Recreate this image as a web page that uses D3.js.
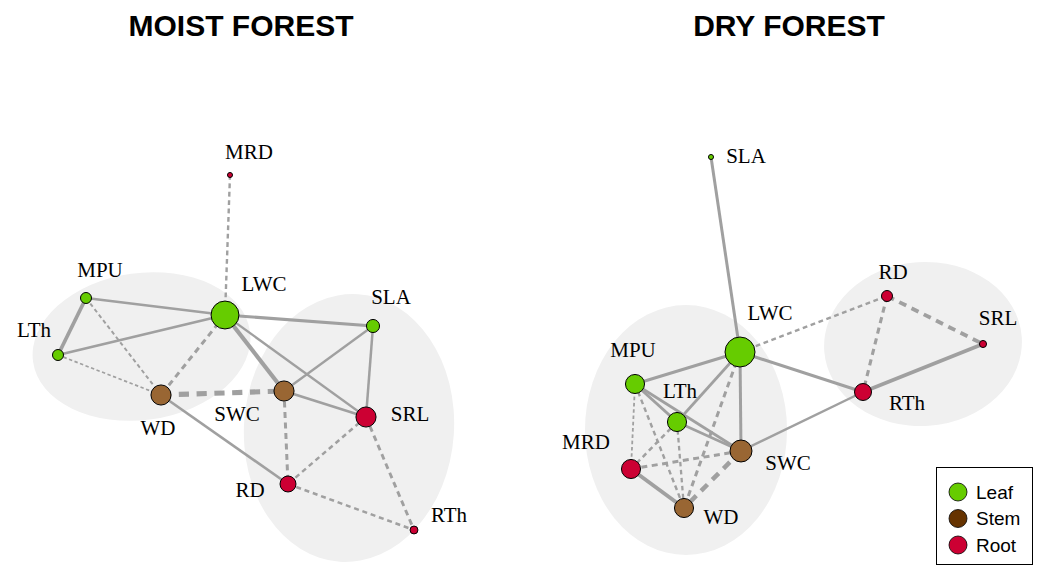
<!DOCTYPE html>
<html>
<head>
<meta charset="utf-8">
<script src="https://cdn.jsdelivr.net/npm/d3@7"></script>
<style>
  html, body { margin: 0; padding: 0; background: #ffffff; }
  svg { display: block; }
</style>
</head>
<body>
<svg id="chart" width="1042" height="565"></svg>
<script>
// ---------- data ----------
const panelTitles = ["MOIST FOREST", "DRY FOREST"];

const traitNames = ["MRD", "MPU", "LTh", "LWC", "SLA", "WD", "SWC", "SRL", "RD", "RTh"];
const traitOrgan = ["Root", "Leaf", "Leaf", "Leaf", "Leaf", "Stem", "Stem", "Root", "Root", "Root"];

// layout coordinates (0-100 layout units) and node centrality
const moistX = [46, 17.2, 11.6, 45, 74.6, 32.2, 56.8, 73.2, 57.6, 82.8];
const moistY = [15, 39.6, 51, 43, 45.2, 59, 58.2, 63.4, 76.8, 86];
const moistCentrality = [0.04, 0.27, 0.27, 0.92, 0.35, 0.62, 0.62, 0.62, 0.46, 0.15];

const dryX = [18.2, 19, 27.4, 40, 34.2, 28.8, 40.2, 88.6, 69.4, 64.6];
const dryY = [73.8, 56.8, 64.4, 50.4, 11.4, 81.6, 70.2, 48.8, 39.2, 58.4];
const dryCentrality = [0.58, 0.58, 0.58, 1.0, 0.04, 0.58, 0.69, 0.12, 0.27, 0.5];

// correlations between traits (negative = dashed)
const moistFrom = ["MRD","MPU","MPU","LTh","MPU","LTh","LWC","WD","WD","LWC","LWC","LWC","SLA","SLA","SWC","SWC","SRL","SRL","RD"];
const moistTo   = ["LWC","LTh","LWC","LWC","WD","WD","WD","SWC","RD","SWC","SRL","SLA","SWC","SRL","SRL","RD","RD","RTh","RTh"];
const moistR    = [-0.40, 0.62, 0.45, 0.45, -0.33, -0.28, -0.50, -0.85, 0.45, 0.70, 0.38, 0.52, 0.38, 0.42, 0.42, -0.50, -0.42, -0.48, -0.42];

const dryFrom = ["SLA","LWC","LWC","RD","RD","RTh","RTh","LWC","LWC","LWC","LWC","MPU","MPU","LTh","MPU","MPU","LTh","LTh","MRD","SWC","MRD"];
const dryTo   = ["LWC","RD","RTh","RTh","SRL","SRL","SWC","MPU","LTh","SWC","WD","LTh","SWC","SWC","MRD","WD","WD","MRD","SWC","WD","WD"];
const dryR    = [0.50, -0.40, 0.50, -0.52, -0.65, 0.60, 0.40, 0.50, 0.45, 0.50, -0.50, 0.50, 0.45, 0.42, -0.30, -0.40, -0.38, -0.42, -0.50, -0.75, 0.65];

// trait modules
const moistGroups = [["MPU","LTh","LWC","WD"], ["SLA","SWC","SRL","RD","RTh"]];
const dryGroups   = [["MPU","LTh","LWC","SWC","MRD","WD"], ["RD","SRL","RTh"]];

const organs = ["Leaf", "Stem", "Root"];

// ---------- styles ----------
const organFill = { Leaf: "#66cc00", Stem: "#996633", Root: "#cc0033" };
const legendFill = { Leaf: "#66cc00", Stem: "#663300", Root: "#cc0033" };
const edgeColor = "#a0a0a0";
const hullFill = "#f0f0f0";
const labelFont = "'Liberation Serif', 'Times New Roman', serif";
const sansFont = "'Liberation Sans', Arial, Helvetica, sans-serif";

// label offsets (px) from node centres
const labelOffset = {
  moist: { MRD:[19,-23], MPU:[14,-28], LTh:[-24,-25], LWC:[39,-31], SLA:[18,-29],
           WD:[-3,33], SWC:[-47,23], SRL:[44,-3], RD:[-38,6], RTh:[35,-15] },
  dry:   { SLA:[35,-1], LWC:[30,-39], RD:[6,-24], SRL:[15,-26], RTh:[44,11],
           MPU:[-2,-34], LTh:[3,-31], SWC:[47,12], MRD:[-45,-27], WD:[37,9] }
};
// padding (px) and tilt (deg) of module outlines around their members
const hullPad = { moist: [[26,25],[40,32]], dry: [[46,47],[39,34]] };
const hullTilt = { moist: [-8, 4], dry: [0, -4] };

const svg = d3.select("#chart");

const radius = d3.scaleLinear().domain([0, 1]).range([2, 15]);
const width = d3.scaleLinear().domain([0, 1]).range([0, 6]);

const panels = [
  { key: "moist", title: panelTitles[0], xs: moistX, ys: moistY, cent: moistCentrality,
    from: moistFrom, to: moistTo, r: moistR, groups: moistGroups,
    x: d3.scaleLinear().domain([0, 100]).range([0, 500]),
    y: d3.scaleLinear().domain([0, 100]).range([100, 600]), titleX: 241 },
  { key: "dry", title: panelTitles[1], xs: dryX, ys: dryY, cent: dryCentrality,
    from: dryFrom, to: dryTo, r: dryR, groups: dryGroups,
    x: d3.scaleLinear().domain([0, 100]).range([540, 1040]),
    y: d3.scaleLinear().domain([0, 100]).range([100, 600]), titleX: 789 }
];

panels.forEach(p => {
  const g = svg.append("g");
  const nodes = traitNames.map((name, i) => ({
    name, organ: traitOrgan[i],
    px: p.x(p.xs[i]), py: p.y(p.ys[i]), rad: radius(p.cent[i])
  }));
  const byName = Object.fromEntries(nodes.map(n => [n.name, n]));
  const edges = p.from.map((f, i) => ({ s: byName[f], t: byName[p.to[i]], r: p.r[i] }));

  // module outlines
  p.groups.forEach((members, gi) => {
    const pts = members.map(m => byName[m]);
    const [x0, x1] = d3.extent(pts, d => d.px);
    const [y0, y1] = d3.extent(pts, d => d.py);
    const pad = hullPad[p.key][gi];
    const cx = (x0 + x1) / 2, cy = (y0 + y1) / 2;
    g.append("ellipse")
      .attr("cx", cx).attr("cy", cy)
      .attr("rx", (x1 - x0) / 2 + pad[0]).attr("ry", (y1 - y0) / 2 + pad[1])
      .attr("transform", `rotate(${hullTilt[p.key][gi]},${cx},${cy})`)
      .attr("fill", hullFill);
  });

  // edges
  g.selectAll("line.edge").data(edges).join("line")
    .attr("class", "edge")
    .attr("x1", d => d.s.px).attr("y1", d => d.s.py)
    .attr("x2", d => d.t.px).attr("y2", d => d.t.py)
    .attr("stroke", edgeColor)
    .attr("stroke-width", d => width(Math.abs(d.r)))
    .attr("stroke-dasharray", d => {
      if (d.r >= 0) return null;
      const w = width(Math.abs(d.r));
      return `${(2 * w).toFixed(1)},${(1.5 * w).toFixed(1)}`;
    });

  // nodes
  g.selectAll("circle.node").data(nodes).join("circle")
    .attr("class", "node")
    .attr("cx", d => d.px).attr("cy", d => d.py).attr("r", d => d.rad)
    .attr("fill", d => organFill[d.organ])
    .attr("stroke", "#000").attr("stroke-width", 1);

  // labels
  g.selectAll("text.lab").data(nodes).join("text")
    .attr("class", "lab")
    .attr("x", d => d.px + labelOffset[p.key][d.name][0])
    .attr("y", d => d.py + labelOffset[p.key][d.name][1])
    .attr("text-anchor", "middle")
    .attr("dominant-baseline", "central")
    .attr("font-family", labelFont)
    .attr("font-size", 21)
    .attr("fill", "#000")
    .text(d => d.name);

  // title
  svg.append("text")
    .attr("x", p.titleX).attr("y", 36)
    .attr("text-anchor", "middle")
    .attr("font-family", sansFont)
    .attr("font-weight", "bold")
    .attr("font-size", 30)
    .text(p.title);
});

// legend
const leg = svg.append("g").attr("transform", "translate(936,467)");
leg.append("rect").attr("x", 0.5).attr("y", 0.5).attr("width", 96).attr("height", 97)
  .attr("fill", "#fff").attr("stroke", "#000").attr("stroke-width", 1);
const legY = d3.scalePoint().domain(organs).range([25, 78]);
organs.forEach(o => {
  leg.append("circle").attr("cx", 22).attr("cy", legY(o)).attr("r", 9)
    .attr("fill", legendFill[o]).attr("stroke", "#000").attr("stroke-width", 0.8);
  leg.append("text").attr("x", 40).attr("y", legY(o))
    .attr("dominant-baseline", "central")
    .attr("font-family", sansFont).attr("font-size", 19)
    .text(o);
});
</script>
</body>
</html>
